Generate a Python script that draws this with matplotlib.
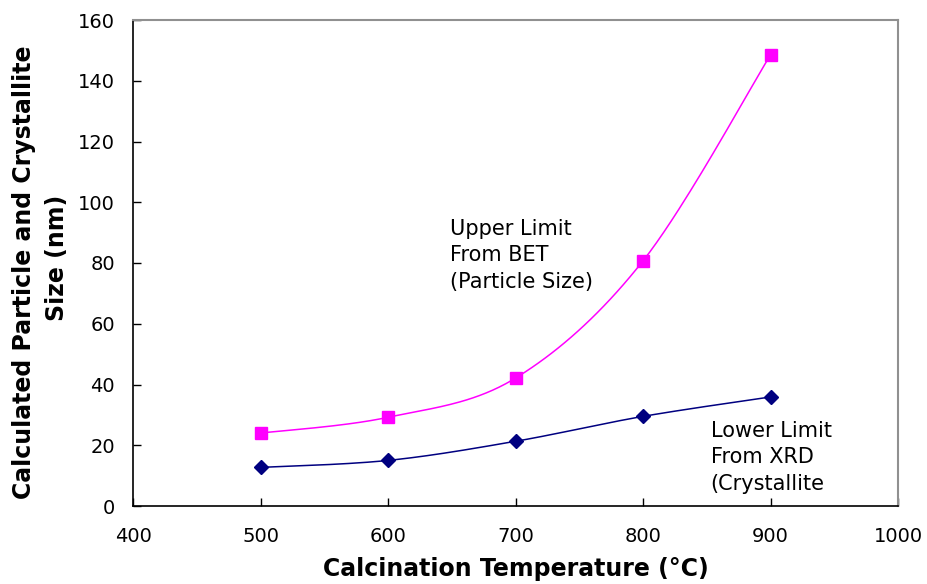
import numpy as np
import matplotlib
matplotlib.use("Agg")
import matplotlib.pyplot as plt

temps = [500, 600, 700, 800, 900]
upper_bet = [24.0, 29.2, 42.1, 80.7, 148.5]
lower_xrd = [12.7, 15.0, 21.3, 29.5, 35.9]

x_ticks = [400, 500, 600, 700, 800, 900, 1000]
y_ticks = [0, 20, 40, 60, 80, 100, 120, 140, 160]

plt.rcParams['font.family'] = ['DejaVu Sans']


def smooth(xs, ys, n=40):
    # Excel-style smoothed line: cubic Bezier segments with Catmull-Rom tangents
    xs = np.asarray(xs, float)
    ys = np.asarray(ys, float)
    px, py = [], []
    m = len(xs)
    for i in range(m - 1):
        p0 = np.array([xs[max(i - 1, 0)], ys[max(i - 1, 0)]])
        p1 = np.array([xs[i], ys[i]])
        p2 = np.array([xs[i + 1], ys[i + 1]])
        p3 = np.array([xs[min(i + 2, m - 1)], ys[min(i + 2, m - 1)]])
        c1 = p1 + (p2 - p0) / 6.0
        c2 = p2 - (p3 - p1) / 6.0
        t = np.linspace(0, 1, n)[:, None]
        pts = ((1 - t) ** 3) * p1 + 3 * ((1 - t) ** 2) * t * c1 + 3 * (1 - t) * t ** 2 * c2 + t ** 3 * p2
        px.extend(pts[:, 0])
        py.extend(pts[:, 1])
    return px, py


W, H = 927, 584
fig = plt.figure(figsize=(W / 100, H / 100), dpi=100)
ax = fig.add_axes([133 / W, 78 / H, (898 - 133) / W, (506 - 20) / H])

ux, uy = smooth(temps, upper_bet)
lx, ly = smooth(temps, lower_xrd)
ax.plot(ux, uy, color='#FF00FF', lw=1.1)
ax.plot(temps, upper_bet, 's', color='#FF00FF', ms=8, mec='#FF00FF')
ax.plot(lx, ly, color='#000080', lw=1.1)
ax.plot(temps, lower_xrd, 'D', color='#000080', ms=7, mec='#000080')

ax.set_xlim(400, 1000)
ax.set_ylim(0, 160)
ax.set_xticks(x_ticks)
ax.set_yticks(y_ticks)
ax.tick_params(direction='in', length=6, width=1, labelsize=14, color='black')
ax.tick_params(axis='x', pad=15)
ax.tick_params(axis='y', pad=13)

for s in ['left', 'bottom']:
    ax.spines[s].set_color('black')
    ax.spines[s].set_linewidth(1.2)
for s in ['top', 'right']:
    ax.spines[s].set_color('#909090')
    ax.spines[s].set_linewidth(1.5)

ax.set_xlabel('Calcination Temperature (°C)', fontsize=17, fontweight='bold', labelpad=8)

fig.text(24 / W, 1 - 272 / H, 'Calculated Particle and Crystallite', rotation=90,
         fontsize=17, fontweight='bold', ha='center', va='center')
fig.text(57 / W, 1 - 258 / H, 'Size (nm)', rotation=90,
         fontsize=17, fontweight='bold', ha='center', va='center')

ax.text(649, 94.5, 'Upper Limit\nFrom BET\n(Particle Size)', fontsize=15, va='top',
        ha='left', linespacing=1.4)
ax.text(853, 28.0, 'Lower Limit\nFrom XRD\n(Crystallite', fontsize=15, va='top',
        ha='left', linespacing=1.4)

fig.savefig('out.png', dpi=100)
